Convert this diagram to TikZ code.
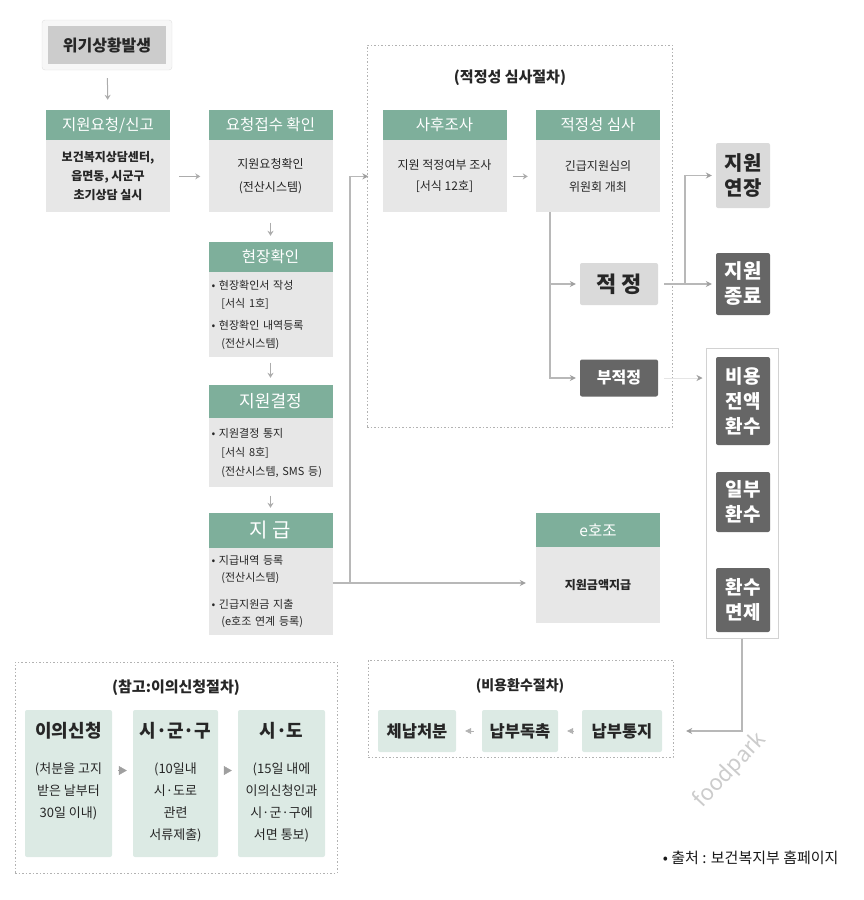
\documentclass[tikz,border=0pt]{standalone}
\usepackage{fontspec}
\setmainfont{Noto Sans CJK KR}
\usetikzlibrary{arrows.meta}
\definecolor{hdgreen}{HTML}{7EAF9B}
\definecolor{bdgray}{HTML}{E7E7E7}
\definecolor{dkbox}{HTML}{666666}
\definecolor{ltbox}{HTML}{DADADA}
\definecolor{ltgreen}{HTML}{DCEAE4}
\definecolor{lngray}{HTML}{B8B8B8}
\definecolor{txt}{HTML}{262626}
\newcommand{\fsz}[2]{\fontsize{#1}{#2}\selectfont}
\tikzset{every picture/.style={x=1pt,y=-1pt},
  hd/.style={fill=hdgreen,text=white,minimum width=124pt,minimum height=30pt,inner sep=0pt,font=\fsz{15.5}{15.5}},
  bd/.style={fill=bdgray,text=txt,minimum width=124pt,inner sep=0pt,align=center,anchor=north},
  dk/.style={fill=dkbox,text=white,rounded corners=2pt,minimum width=54pt,inner sep=0pt,align=center},
  lt/.style={fill=ltbox,text=txt,rounded corners=2pt,minimum width=54pt,inner sep=0pt,align=center},
  gbox/.style={fill=ltgreen,text=txt,rounded corners=2pt,inner sep=0pt,align=center},
  dotbox/.style={draw=gray!60,line width=0.8pt,dash pattern=on 1.5pt off 2pt,inner sep=0pt},
  conn/.style={draw=lngray,line width=1.6pt},
  tip/.style={-{Stealth[length=6pt,width=6pt,color=gray!75]}},
  arr/.style={draw=gray!65,line width=1pt,-{Stealth[length=5pt,width=6pt]}},
  tri/.style={draw=gray!60,line width=0.6pt,-{Triangle[length=6pt,width=6pt]}},
  tritwo/.style={draw=gray!75,line width=0.6pt,-{Triangle[length=8pt,width=9pt]}}}

\begin{document}
\begin{tikzpicture}
\useasboundingbox (0,0) rectangle (864,900);

% start
\node[draw=gray!25,fill=gray!6,rounded corners=3pt,minimum width=130pt,minimum height=50pt] (w0) at (107,45) {};
\node[fill=gray!40,text=txt,minimum width=118pt,minimum height=38pt,inner sep=0pt,font=\bfseries\fsz{16}{16}] (w1) at (107,45) {위기상황발생};

% left column
\node[hd] (h1) at (108,125) {지원요청/신고};
\node[bd,minimum height=72pt,font=\bfseries\fsz{12}{19}] (b1) at (h1.south) {보건복지상담센터,\\읍면동, 시군구\\초기상담 실시};

\node[hd] (h2) at (270.5,125) {요청접수 확인};
\node[bd,minimum height=72pt,font=\fsz{12}{23}] (b2) at (h2.south) {지원요청확인\\(전산시스템)};

\node[hd] (h3) at (270.5,257) {현장확인};
\node[bd,minimum height=85pt,text width=118pt,align=left,font=\fsz{11}{18}] (b3) at (h3.south)
  {• 현장확인서 작성\\\hspace*{0.9em}[서식 1호]\\[4pt]• 현장확인 내역등록\\\hspace*{0.9em}(전산시스템)};

\node[hd,minimum height=33pt,font=\fsz{17}{17}] (h4) at (270.5,401.5) {지원결정};
\node[bd,minimum height=69pt,text width=118pt,align=left,font=\fsz{11}{19}] (b4) at (h4.south)
  {• 지원결정 통지\\\hspace*{0.9em}[서식 8호]\\\hspace*{0.9em}(전산시스템, SMS 등)};

\node[hd,minimum height=35pt,font=\fsz{20}{20}] (h5) at (270.5,530.5) {지 급};
\node[bd,minimum height=87pt,text width=118pt,align=left,font=\fsz{11}{17}] (b5) at (h5.south)
  {• 지급내역 등록\\\hspace*{0.9em}(전산시스템)\\[10pt]• 긴급지원금 지출\\\hspace*{0.9em}(e호조 연계 등록)};

% review
\node[dotbox,minimum width=305pt,minimum height=382pt] (g1) at (519.5,236) {};
\node[font=\bfseries\fsz{15}{15},text=txt] (t1) at (510,78) {(적정성 심사절차)};

\node[hd] (h6) at (444.5,125) {사후조사};
\node[bd,minimum height=72pt,font=\fsz{12}{21}] (sb) at (h6.south) {지원 적정여부 조사\\{[서식 12호]}};

\node[hd] (h7) at (598,125) {적정성 심사};
\node[bd,minimum height=72pt,font=\fsz{12}{21}] (jb) at (h7.south) {긴급지원심의\\위원회 개최};

\node[lt,minimum width=78pt,minimum height=42pt,font=\bfseries\fsz{22}{22}] (aj) at (619,284) {적 정};
\node[dk,minimum width=78pt,minimum height=37pt,font=\bfseries\fsz{16}{16}] (bj) at (619,378) {부적정};

\node[lt,minimum height=65pt,font=\bfseries\fsz{20}{25}] (ey) at (743,175.5) {지원\\연장};
\node[dk,minimum height=62pt,font=\bfseries\fsz{20}{25}] (eo) at (743,284) {지원\\종료};

% refund group
\node[draw=gray!35,line width=1pt,fill=white,minimum width=72pt,minimum height=290pt,inner sep=0pt] (gp) at (742,493) {};
\node[dk,minimum height=88pt,font=\bfseries\fsz{19}{25}] (r1) at (743,401) {비용\\전액\\환수};
\node[dk,minimum height=60pt,font=\bfseries\fsz{19}{25}] (r2) at (743,502) {일부\\환수};
\node[dk,minimum height=64pt,font=\bfseries\fsz{19}{25}] (r3) at (743,600) {환수\\면제};

% e호조
\node[hd,minimum height=34pt] (h8) at (598,530) {e호조};
\node[bd,minimum height=76pt,font=\bfseries\fsz{12}{12}] (eb) at (h8.south) {지원금액지급};

% refund procedure
\node[dotbox,minimum width=305pt,minimum height=97pt] (g2) at (520.5,708.5) {};
\node[font=\bfseries\fsz{14}{14},text=txt] (t2) at (520,686) {(비용환수절차)};
\node[gbox,minimum width=78pt,minimum height=42pt,font=\bfseries\fsz{16.5}{16.5}] (n1) at (417,731) {체납처분};
\node[gbox,minimum width=76pt,minimum height=42pt,font=\bfseries\fsz{16.5}{16.5}] (n2) at (520,731) {납부독촉};
\node[gbox,minimum width=80pt,minimum height=42pt,font=\bfseries\fsz{16.5}{16.5}] (n3) at (622,731) {납부통지};

% objection procedure
\node[dotbox,minimum width=322pt,minimum height=211pt] (g3) at (176,767.5) {};
\node[font=\bfseries\fsz{15}{15},text=txt] (t3) at (176,688) {(참고:이의신청절차)};
\node[gbox,minimum width=87pt,minimum height=147pt,font=\fsz{13}{22}] (i1) at (68.5,783.5)
  {\parbox[c][140pt][t]{86pt}{\centering\vspace*{9pt}{\bfseries\fsz{18}{18}이의신청}\\[14pt](처분을 고지\\받은 날부터\\30일 이내)}};
\node[gbox,minimum width=85pt,minimum height=147pt,font=\fsz{13}{22}] (i2) at (175.5,783.5)
  {\parbox[c][140pt][t]{84pt}{\centering\vspace*{9pt}{\bfseries\fsz{18}{18}시·군·구}\\[14pt](10일내\\시·도로\\관련\\서류제출)}};
\node[gbox,minimum width=87pt,minimum height=147pt,font=\fsz{13}{22}] (i3) at (281.5,783.5)
  {\parbox[c][140pt][t]{86pt}{\centering\vspace*{9pt}{\bfseries\fsz{18}{18}시·도}\\[14pt](15일 내에\\이의신청인과\\시·군·구에\\서면 통보)}};

\node[anchor=east,text=gray!20!black,font=\fsz{15}{15}] (src) at (842,858) {• 출처 : 보건복지부 홈페이지};
\node[rotate=47,text=gray!40,font=\fsz{22}{22}] (wm) at (730,770) {foodpark};

% arrows
\draw[arr,shorten <=8pt,shorten >=10pt] (w0) -- (h1);
\draw[arr,shorten <=9pt,shorten >=8pt] (b1) -- (b2);
\draw[arr,shorten <=10pt,shorten >=6pt] (b2) -- (h3);
\draw[arr,shorten <=5pt,shorten >=7pt] (b3) -- (h4);
\draw[arr,shorten <=8pt,shorten >=5pt] (b4) -- (h5);
\draw[arr,shorten <=6pt,shorten >=8pt] (sb) -- (jb);

\coordinate (c1) at (350,583);
\draw[conn] (b5.east |- c1) -- (c1);
\draw[conn,tip,shorten >=10pt] (c1) -- (eb.west |- c1);
\draw[conn,tip,shorten >=14pt] (c1) |- (sb.west);

\coordinate (c2) at (550,212);
\draw[conn,tip,shorten >=4pt] (c2) |- (aj.west);
\draw[conn,tip,shorten >=4pt] (c2) |- (bj.west);

\coordinate (c3) at (685,284);
\draw[conn,shorten <=6pt] (aj.east) -- (c3);
\draw[conn,tip,shorten >=4pt] (c3) -- (eo.west);
\draw[conn,tip,shorten >=4pt] (c3) |- (ey.west);

\draw[draw=gray!20,line width=0.8pt,tip,shorten <=6pt,shorten >=3pt] (bj.east) -- (gp.west |- bj);
\draw[conn,tip,shorten >=24pt] (gp.south) |- (n3.east);

\draw[tri,shorten <=8pt,shorten >=9pt] (n3) -- (n2);
\draw[tri,shorten <=8pt,shorten >=9pt] (n2) -- (n1);
\draw[tritwo,shorten <=6pt,shorten >=6pt] ([yshift=13pt]i1.east) -- ([yshift=13pt]i2.west);
\draw[tritwo,shorten <=6pt,shorten >=6pt] ([yshift=13pt]i2.east) -- ([yshift=13pt]i3.west);
\end{tikzpicture}
\end{document}
